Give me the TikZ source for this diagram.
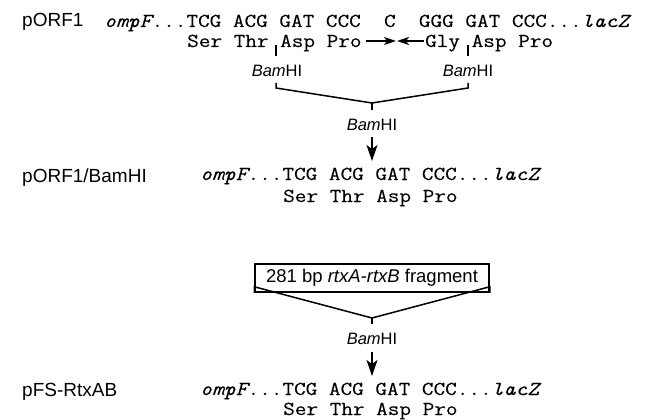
\documentclass[tikz,border=0pt]{standalone}
\usepackage{fontspec}
\setmainfont{Liberation Sans}
\newfontfamily\monofam[FakeStretch=1.14,FakeBold=0.1]{Latin Modern Mono}
\usetikzlibrary{arrows.meta}
\begin{document}
\begin{tikzpicture}[x=1pt,y=-1pt,
  seq/.style={inner sep=0pt,anchor=base west,font=\monofam\fontsize{19.8}{22}\selectfont},
  lbl/.style={inner sep=0pt,anchor=base west,font=\fontsize{19}{22}\selectfont},
  enz/.style={inner sep=0pt,anchor=base,font=\fontsize{16.5}{18}\selectfont},
  ln/.style={line width=1.5pt},
  sarr/.style={line width=1.5pt,-{Stealth[length=12pt,width=8pt,inset=3pt]}},
  varr/.style={line width=1.5pt,-{Stealth[length=16pt,width=11pt,inset=4pt]}},
  frag/.style={draw,line width=1.5pt,minimum width=234pt,minimum height=28pt,inner sep=0pt,font=\fontsize{18.5}{22}\selectfont}]
\useasboundingbox (0,0) rectangle (648,420);
% --- pORF1
\node[lbl] (l1) at (22,27) {pORF1};
\node[seq] (s1a) at (104,27) {\textit{ompF}...TCG ACG GAT CCC~~C~~GGG GAT CCC...\textit{lacZ}};
\node[seq] (s1b) at (187,47) {Ser Thr Asp Pro};
\node[seq] (s1c) at (425,47) {Gly Asp Pro};
\coordinate (ra0) at (366,41);
\coordinate (ra1) at (396,41);
\coordinate (la0) at (424,41);
\coordinate (la1) at (397,41);
\draw[sarr] (ra0) -- (ra1);
\draw[sarr] (la0) -- (la1);
% ticks
\coordinate (t1a) at (276,45);
\coordinate (t1b) at (276,56);
\coordinate (t2a) at (468,45);
\coordinate (t2b) at (468,56);
\draw[ln] (t1a) -- (t1b);
\draw[ln] (t2a) -- (t2b);
\node[enz] (b1) at (277,77) {\textit{Bam}HI};
\node[enz] (b2) at (468,77) {\textit{Bam}HI};
% bracket
\coordinate (k1) at (276,83);
\coordinate (k2) at (276,88);
\coordinate (kc) at (372,103);
\coordinate (k3) at (468,88);
\coordinate (k4) at (468,83);
\coordinate (kd) at (372,110);
\draw[ln] (k1) -- (k2) -- (kc) -- (k3) -- (k4);
\draw[ln] (kc) -- (kd);
\node[enz] (b3) at (372,130) {\textit{Bam}HI};
\coordinate (v1a) at (372,137);
\coordinate (v1b) at (372,161);
\draw[varr] (v1a) -- (v1b);
% --- pORF1/BamHI
\node[lbl] (l2) at (22,182) {pORF1/BamHI};
\node[seq] (s2a) at (200,180) {\textit{ompF}...TCG ACG GAT CCC...\textit{lacZ}};
\node[seq] (s2b) at (283,202) {Ser Thr Asp Pro};
% --- fragment
\node[frag] (fr) at (372,278) {281 bp \textit{rtxA-rtxB} fragment};
\coordinate (f1) at (fr.south west);
\coordinate (f2) at ([yshift=6pt]fr.south west);
\coordinate (fc) at (372,318);
\coordinate (f3) at ([yshift=6pt]fr.south east);
\coordinate (f4) at (fr.south east);
\coordinate (fd) at (372,324);
\draw[ln] (f1) -- (f2) -- (fc) -- (f3) -- (f4);
\draw[ln] (fc) -- (fd);
\node[enz] (b4) at (372,344) {\textit{Bam}HI};
\coordinate (v2a) at (372,352);
\coordinate (v2b) at (372,376);
\draw[varr] (v2a) -- (v2b);
% --- pFS-RtxAB
\node[lbl] (l3) at (22,396) {pFS-RtxAB};
\node[seq] (s3a) at (200,395) {\textit{ompF}...TCG ACG GAT CCC...\textit{lacZ}};
\node[seq] (s3b) at (283,415) {Ser Thr Asp Pro};
\end{tikzpicture}
\end{document}
